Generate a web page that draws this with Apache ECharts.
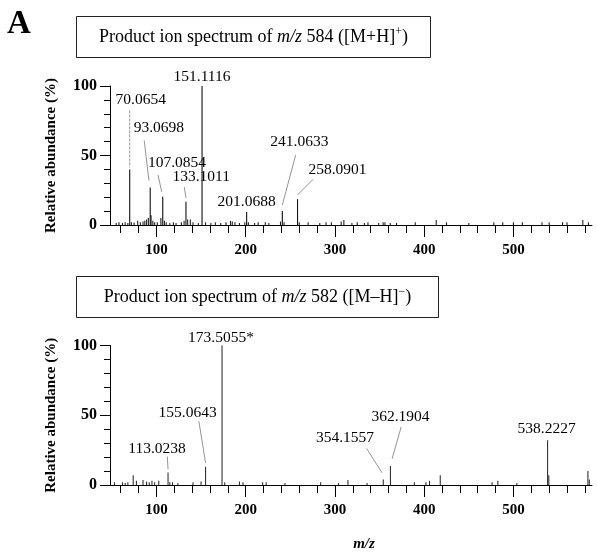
<!DOCTYPE html>
<html>
<head>
<meta charset="utf-8">
<script src="https://cdn.jsdelivr.net/npm/echarts@6/dist/echarts.min.js"></script>
<style>
  html, body { margin: 0; padding: 0; background: #fff; }
  #chart { width: 597px; height: 553px; }
</style>
</head>
<body>
<div id="chart"></div>
<script>
// 质谱图 - 上: [M+H]+ 正离子, 下: [M-H]- 负离子

// 上图: 标注的主峰 (m/z, 相对丰度 %)
const posLabeled = [
    [70.0654, 40], [93.0698, 27], [107.0854, 20.4], [133.1011, 16.8],
    [151.1116, 100], [201.0688, 9.4], [241.0633, 10], [258.0901, 18.6]
];
const posLabelText = ['70.0654', '93.0698', '107.0854', '133.1011', '151.1116', '201.0688', '241.0633', '258.0901'];
// 上图: 小峰
const posMinor = [
    [55, 1.5], [58, 2], [62, 1.5], [65, 2], [68, 1.5], [72, 2], [75, 1.8], [79, 3], [82, 2],
    [85, 2.5], [87, 3], [89, 4], [91, 5], [94, 7], [96, 3], [98, 2], [101, 2], [105, 5],
    [109, 3], [111, 2], [115, 1.5], [119, 2], [122, 1.5], [128, 2], [131, 3], [135, 4],
    [138, 4], [141, 2], [147, 1.5], [155, 2], [161, 1.5], [166, 2], [172, 1.5], [178, 2],
    [183, 3], [185, 2.5], [188, 2], [193, 1.5], [199, 2], [203, 2], [210, 1.5], [214, 2],
    [222, 2], [226, 1.5], [239, 2.5], [243, 2], [260, 2], [270, 2], [283, 1.5], [290, 2],
    [296, 2], [307, 2.5], [310, 3.6], [319, 1.5], [325, 2], [333, 1.5], [337, 2], [349, 1.5],
    [354, 2], [356, 2], [362, 1.5], [369, 1.5], [390, 2], [413.5, 3.6], [425, 2], [450, 1.5],
    [478, 2], [488, 2], [500, 2], [510, 2], [532, 2], [540, 2], [555, 2], [560, 2],
    [577.7, 3.6], [584, 2]
];

// 下图: 标注的主峰
const negLabeled = [
    [113.0238, 8.9], [155.0643, 13], [173.5055, 100], [354.1557, 4], [362.1904, 13.6], [538.2227, 32]
];
const negLabelText = ['113.0238', '155.0643', '173.5055*', '354.1557', '362.1904', '538.2227'];
// 下图: 小峰
const negMinor = [
    [53, 2], [62, 2], [65, 1.5], [68, 2], [74, 7], [77.6, 3], [85, 3.5], [89, 2.5], [92, 2],
    [95, 3], [98, 2], [102.6, 3], [115, 2], [118, 2], [124, 1.5], [141, 2], [150, 2.5],
    [176.5, 2], [193, 2.5], [197, 2], [219, 2], [223, 2], [244, 1.5], [284, 2], [304, 1.5],
    [314.6, 3.5], [336, 1.5], [389, 2], [402, 2], [406, 3], [418, 7], [476, 2], [482.5, 3],
    [503.8, 1.5], [539.6, 7], [583.4, 10], [585, 4]
];

// 坐标轴刻度
const xMajorTicks = [100, 200, 300, 400, 500];
const xMinorTicks = [60, 80, 120, 140, 160, 180, 220, 240, 260, 280, 320, 340, 360, 380,
    420, 440, 460, 480, 520, 540, 560, 580];

// 标签相对峰顶的偏移 (像素) 和引线 [x1, y1, x2, y2]
const posLabelOffset = [[11, -69], [8.7, -60], [14.3, -34], [15.3, -25], [0, -9], [0, -10], [17, -69], [40, -29]];
const posLeader = [
    [0, -59, 0, -2], [-6, -47, -1.3, -7], [-4.7, -21.7, -1, -4.7], [-1.7, -14.7, 0, -3.7],
    null, null, [13.3, -56, 0, -6], [15.7, -20, 0, -4.3]
];
const negLabelOffset = [[-11, -24], [-18, -54], [-1, -8], [-38.3, -41.7], [10, -49], [-1, -11.7]];
const negLeader = [
    [-0.7, -16, 0, -3.3], [-6.7, -45.6, 0, -4], null,
    [-16.7, -31, -1.3, -6.7], [10.7, -39, 1.7, -7.4], null
];

const SERIF = '"Liberation Serif", "DejaVu Serif", serif';

function stickSeries(data, idx, color) {
    return {
        type: 'custom',
        xAxisIndex: idx * 2,
        yAxisIndex: idx,
        clip: false,
        renderItem: function (params, api) {
            const p0 = api.coord([api.value(0), 0]);
            const p1 = api.coord([api.value(0), api.value(1)]);
            return {
                type: 'line',
                shape: { x1: p0[0], y1: p0[1], x2: p1[0], y2: p1[1] },
                style: { stroke: color, lineWidth: 1.1 }
            };
        },
        data: data,
        silent: true
    };
}

function labelSeries(data, texts, offsets, leaders, idx) {
    return {
        type: 'custom',
        xAxisIndex: idx * 2,
        yAxisIndex: idx,
        clip: false,
        renderItem: function (params, api) {
            const i = params.dataIndex;
            const top = api.coord([api.value(0), api.value(1)]);
            const off = offsets[i];
            const children = [{
                type: 'text',
                x: top[0] + off[0],
                y: top[1] + off[1],
                style: {
                    text: texts[i],
                    fill: '#000',
                    font: '15.5px ' + SERIF,
                    align: 'center',
                    verticalAlign: 'middle'
                }
            }];
            const ld = leaders[i];
            if (ld) {
                children.push({
                    type: 'line',
                    shape: { x1: top[0] + ld[0], y1: top[1] + ld[1], x2: top[0] + ld[2], y2: top[1] + ld[3] },
                    style: { stroke: '#777', lineWidth: 0.8, lineDash: (i === 0 && idx === 0) ? [3, 1] : null }
                });
            }
            return { type: 'group', children: children };
        },
        data: data,
        silent: true
    };
}

function makeXAxes(gridIndex, withName) {
    const main = {
        gridIndex: gridIndex,
        type: 'value',
        position: 'bottom',
        min: 48,
        max: 588,
        axisLine: { show: true, onZero: false, lineStyle: { color: '#000', width: 1 } },
        axisTick: { show: true, customValues: xMajorTicks, length: 12, lineStyle: { color: '#000', width: 1 } },
        axisLabel: {
            customValues: xMajorTicks,
            margin: 18,
            color: '#000',
            fontFamily: SERIF,
            fontWeight: 'bold',
            fontSize: 15
        },
        splitLine: { show: false }
    };
    if (withName) {
        main.name = 'm/z';
        main.nameLocation = 'middle';
        main.nameGap = 52;
        main.nameTextStyle = {
            color: '#000', fontFamily: SERIF, fontWeight: 'bold', fontStyle: 'italic', fontSize: 15,
            padding: [0, 0, 0, 26]
        };
    }
    const minor = {
        gridIndex: gridIndex,
        type: 'value',
        position: 'bottom',
        min: 48,
        max: 588,
        axisLine: { show: false },
        axisTick: { show: true, customValues: xMinorTicks, length: 8, lineStyle: { color: '#000', width: 1 } },
        axisLabel: { show: false },
        splitLine: { show: false }
    };
    return [main, minor];
}

function makeYAxis(gridIndex) {
    return {
        gridIndex: gridIndex,
        type: 'value',
        min: 0,
        max: 100,
        interval: 50,
        name: 'Relative abundance (%)',
        nameLocation: 'middle',
        nameGap: 51,
        nameTextStyle: { color: '#000', fontFamily: SERIF, fontWeight: 'bold', fontSize: 15 },
        axisLine: { show: true, lineStyle: { color: '#000', width: 1 } },
        axisTick: { show: true, length: 10, lineStyle: { color: '#000', width: 1 } },
        minorTick: { show: true, splitNumber: 5, length: 6, lineStyle: { color: '#000', width: 1 } },
        minorSplitLine: { show: false },
        axisLabel: { margin: 13, color: '#000', fontFamily: SERIF, fontWeight: 'bold', fontSize: 16 },
        splitLine: { show: false }
    };
}

function titleBox(x, y, w, h, text) {
    return [{
        type: 'rect',
        shape: { x: x, y: y, width: w, height: h },
        style: { fill: '#fff', stroke: '#222', lineWidth: 1 }
    }, {
        type: 'text',
        x: x + w / 2,
        y: y + h / 2,
        style: {
            text: text,
            align: 'center',
            verticalAlign: 'middle',
            rich: {
                n: { fontFamily: SERIF, fontSize: 18, fill: '#000', lineHeight: 22 },
                i: { fontFamily: SERIF, fontSize: 18, fontStyle: 'italic', fill: '#000', lineHeight: 22 },
                s: { fontFamily: SERIF, fontSize: 12, fill: '#000', lineHeight: 22, verticalAlign: 'top' }
            }
        }
    }];
}

const chart = echarts.init(document.getElementById('chart'), null, { renderer: 'canvas' });

const option = {
    backgroundColor: '#fff',
    animation: false,
    grid: [
        { left: 110, top: 86, width: 482, height: 139 },
        { left: 110, top: 345.5, width: 482, height: 140 }
    ],
    xAxis: makeXAxes(0, false).concat(makeXAxes(1, true)),
    yAxis: [makeYAxis(0), makeYAxis(1)],
    graphic: [
        {
            type: 'text',
            x: 7,
            y: 8,
            style: { text: 'A', font: 'bold 33px ' + SERIF, fill: '#000' }
        }
    ].concat(
        titleBox(76.5, 16.5, 354, 41, '{n|Product ion spectrum of }{i|m/z}{n| 584 ([M+H]}{s|+}{n|)}'),
        titleBox(76.5, 276.5, 362, 41, '{n|Product ion spectrum of }{i|m/z}{n| 582 ([M–H]}{s|−}{n|)}')
    ),
    series: [
        stickSeries(posMinor, 0, '#222'),
        stickSeries(posLabeled, 0, '#111'),
        labelSeries(posLabeled, posLabelText, posLabelOffset, posLeader, 0),
        stickSeries(negMinor, 1, '#333'),
        stickSeries(negLabeled, 1, '#333'),
        labelSeries(negLabeled, negLabelText, negLabelOffset, negLeader, 1)
    ]
};

chart.setOption(option);

window.addEventListener('resize', () => {
    chart.resize();
});
</script>
</body>
</html>
